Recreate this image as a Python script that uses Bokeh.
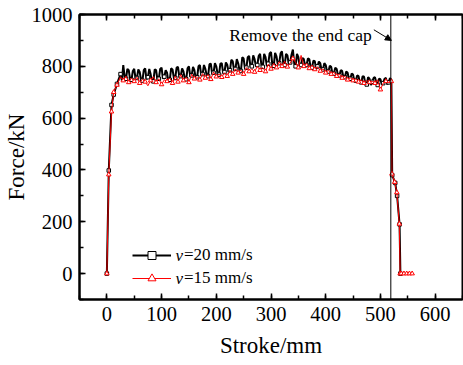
from bokeh.plotting import figure
from bokeh.models import (Range1d, LinearAxis, SingleIntervalTicker, Span, Label,
                          Arrow, NormalHead, Legend, LegendItem, CustomJSTickFormatter)
from bokeh.embed import file_html
from bokeh.resources import INLINE

FONT = "Liberation Serif"

# ---------------- data ----------------
start_x = [0, 3.5, 8.5, 12.5, 18.5]
start_y20 = [0, 398, 651, 691, 732]
start_y15 = [0, 382, 625, 700, 728]

plateau_x = [25, 30, 35, 40, 45, 50, 55, 60, 65, 70,
             75, 80, 85, 90, 95, 100, 105, 110, 115, 120,
             125, 130, 135, 140, 145, 150, 155, 160, 165, 170,
             175, 180, 185, 190, 195, 200, 205, 210, 215, 220,
             225, 230, 235, 240, 245, 250, 255, 260, 265, 270,
             275, 280, 285, 290, 295, 300, 305, 310, 315, 320,
             325, 330, 335, 340, 345, 350, 355, 360, 365, 370,
             375, 380, 385, 390, 395, 400, 405, 410, 415, 420,
             425, 430, 435, 440, 445, 450, 455, 460, 465, 470,
             475, 480, 485, 490, 495, 500, 505, 510, 515, 520]

# v = 20 mm/s, samples on plateau_x
plateau_y20 = [770, 805, 752, 785, 748, 790, 755, 778, 745, 792,
               758, 770, 742, 785, 752, 795, 760, 775, 748, 788,
               755, 798, 762, 780, 750, 800, 765, 785, 758, 805,
               770, 790, 762, 810, 775, 800, 768, 812, 778, 806,
               785, 820, 790, 812, 782, 830, 795, 840, 800, 828,
               805, 848, 798, 835, 810, 855, 802, 838, 812, 858,
               805, 842, 815, 865, 800, 835, 805, 828, 805, 828,
               795, 820, 800, 812, 788, 805, 780, 798, 772, 790,
               765, 782, 758, 775, 752, 768, 745, 762, 738, 760,
               730, 752, 740, 758, 728, 750, 735, 755, 738, 748]

# v = 20 mm/s, extra samples half-way between plateau_x values
mid_x = [27.5, 32.5, 37.5, 42.5, 47.5, 52.5, 57.5, 62.5, 67.5, 72.5,
         77.5, 82.5, 87.5, 92.5, 97.5, 102.5, 107.5, 112.5, 117.5, 122.5,
         127.5, 132.5, 137.5, 142.5, 147.5, 152.5, 157.5, 162.5, 167.5, 172.5,
         177.5, 182.5, 187.5, 192.5, 197.5, 202.5, 207.5, 212.5, 217.5, 222.5,
         227.5, 232.5, 237.5, 242.5, 247.5, 252.5, 257.5, 262.5, 267.5, 272.5,
         277.5, 282.5, 287.5, 292.5, 297.5, 302.5, 307.5, 312.5, 317.5, 322.5,
         327.5, 332.5, 337.5, 342.5, 347.5, 352.5, 357.5, 362.5, 367.5, 372.5,
         377.5, 382.5, 387.5, 392.5, 397.5, 402.5, 407.5, 412.5, 417.5, 422.5,
         427.5, 432.5, 437.5, 442.5, 447.5, 452.5, 457.5, 462.5, 467.5, 472.5,
         477.5, 482.5, 487.5, 492.5, 497.5, 502.5, 507.5, 512.5, 517.5]
mid_y20 = [745, 760, 790, 750, 782, 752, 788, 748, 785, 750,
           790, 740, 788, 748, 790, 752, 785, 740, 792, 755,
           795, 758, 792, 752, 792, 760, 798, 752, 800, 765,
           805, 765, 808, 770, 812, 770, 810, 775, 815, 778,
           825, 785, 828, 785, 835, 790, 835, 798, 842, 800,
           840, 805, 848, 800, 850, 805, 852, 808, 850, 810,
           848, 808, 845, 810, 848, 800, 832, 798, 830, 795,
           822, 790, 818, 785, 812, 778, 802, 770, 795, 765,
           785, 755, 780, 750, 772, 742, 765, 735, 762, 732,
           758, 728, 755, 738, 752, 730, 752, 730, 755]

# v = 15 mm/s, samples on plateau_x
plateau_y15 = [760, 745, 762, 738, 755, 742, 758, 735, 750, 740,
               725, 745, 760, 738, 752, 730, 748, 742, 755, 735,
               762, 740, 768, 745, 758, 738, 770, 752, 760, 748,
               772, 755, 768, 750, 778, 760, 770, 758, 775, 762,
               785, 770, 790, 775, 785, 770, 795, 780, 790, 778,
               800, 785, 795, 780, 808, 790, 812, 795, 818, 800,
               820, 798, 812, 830, 815, 795, 842, 800, 812, 792,
               805, 788, 798, 782, 790, 775, 785, 770, 778, 762,
               770, 755, 762, 748, 756, 745, 752, 740, 748, 735,
               745, 738, 742, 735, 748, 710, 735, 742, 738, 742]

tail_x20 = [521.5, 527, 530.5, 535, 536.5]
tail_y20 = [380, 350, 300, 190, 0]
tail_x15 = [521, 526, 530, 534.5, 536, 538, 543, 548, 553, 558]
tail_y15 = [385, 353, 313, 192, 0, 0, 0, 0, 0, 0]

cap_removed_at = 519          # stroke where the end cap is removed

x_ticks_interval = 100
y_ticks_interval = 200

# interleave the two v=20 sample sets by stroke
dense20 = sorted(zip(plateau_x + mid_x, plateau_y20 + mid_y20))
x20 = start_x + [a for a, b in dense20] + tail_x20
y20 = start_y20 + [b for a, b in dense20] + tail_y20
x15 = start_x + plateau_x + tail_x15
y15 = start_y15 + plateau_y15 + tail_y15
mx20 = start_x + plateau_x[::2] + tail_x20
my20 = start_y20 + plateau_y20[::2] + tail_y20
mx15 = start_x + plateau_x[1::2] + tail_x15
my15 = start_y15 + plateau_y15[1::2] + tail_y15

# ---------------- figure ----------------
p = figure(width=463, height=365, output_backend="svg", toolbar_location=None,
           x_range=Range1d(-50, 650), y_range=Range1d(-100, 1000),
           x_axis_label="Stroke/mm", y_axis_label="Force/kN",
           min_border_left=79, min_border_right=1, min_border_top=14,
           min_border_bottom=66)
p.background_fill_color = "white"
p.border_fill_color = "white"
p.outline_line_color = "black"
p.outline_line_width = 2
p.xgrid.visible = False
p.ygrid.visible = False

xt = SingleIntervalTicker(interval=x_ticks_interval, num_minor_ticks=2)
yt = SingleIntervalTicker(interval=y_ticks_interval, num_minor_ticks=2)

def style_axis(ax, labels=True):
    ax.axis_line_width = 2
    ax.axis_line_color = "black"
    ax.major_tick_in = 6
    ax.major_tick_out = 0
    ax.minor_tick_in = 4
    ax.minor_tick_out = 0
    ax.major_tick_line_width = 1.5
    ax.minor_tick_line_width = 1.5
    ax.major_tick_line_color = "black"
    ax.minor_tick_line_color = "black"
    if labels:
        ax.major_label_text_font = FONT
        ax.major_label_text_font_size = "20.5px"
        ax.major_label_text_color = "black"
        ax.axis_label_text_font = FONT
        ax.axis_label_text_font_size = "23px"
        ax.axis_label_text_font_style = "normal"
        ax.axis_label_text_color = "black"
    else:
        ax.formatter = CustomJSTickFormatter(code="return ''")
        ax.major_label_text_font_size = "1px"
        ax.major_label_standoff = 0

p.xaxis.ticker = xt
p.yaxis.ticker = yt
style_axis(p.xaxis[0])
style_axis(p.yaxis[0])
p.xaxis.major_label_standoff = 7
p.xaxis.axis_label_standoff = 9
p.yaxis.major_label_standoff = 7
p.yaxis.axis_label_standoff = 0

top = LinearAxis(ticker=xt)
style_axis(top, labels=False)
p.add_layout(top, "above")

# vertical line: end cap removed
p.add_layout(Span(location=cap_removed_at, dimension="height",
                  line_color="black", line_width=1))

# series
l20 = p.line(x20, y20, line_color="black", line_width=2)
s20 = p.scatter(mx20, my20, marker="square", size=3.5, fill_color="white",
                line_color="black", line_width=1)
l15 = p.line(x15, y15, line_color="#ff0000", line_width=1)
s15 = p.scatter(mx15, my15, marker="triangle", size=4.5, fill_color="white",
                line_color="#ff0000", line_width=1)

# annotation
p.add_layout(Label(x=484, y=919, text="Remove the end cap", text_align="right",
                   text_baseline="alphabetic", text_font=FONT,
                   text_font_size="17.5px", text_color="black"))
p.add_layout(Arrow(x_start=488, y_start=941, x_end=520, y_end=900,
                   line_color="black", line_width=1,
                   end=NormalHead(size=6, fill_color="black", line_color="black")))

# legend
legend = Legend(items=[LegendItem(label="=20 mm/s", renderers=[l20, s20]),
                       LegendItem(label="=15 mm/s", renderers=[l15, s15])],
                location=(53, 11), glyph_width=39, glyph_height=20,
                label_height=20, spacing=3, padding=0, margin=0,
                label_standoff=13, label_text_font=FONT,
                label_text_font_size="17px", label_text_color="black",
                border_line_color=None, background_fill_alpha=0)
p.add_layout(legend)
for yy in (70, -17.7):
    p.add_layout(Label(x=125.5, y=yy, text="v", text_font=FONT,
                       text_font_style="italic", text_font_size="17px",
                       text_baseline="middle", text_align="left",
                       text_color="black"))

open("out.html", "w").write(file_html(p, INLINE))
